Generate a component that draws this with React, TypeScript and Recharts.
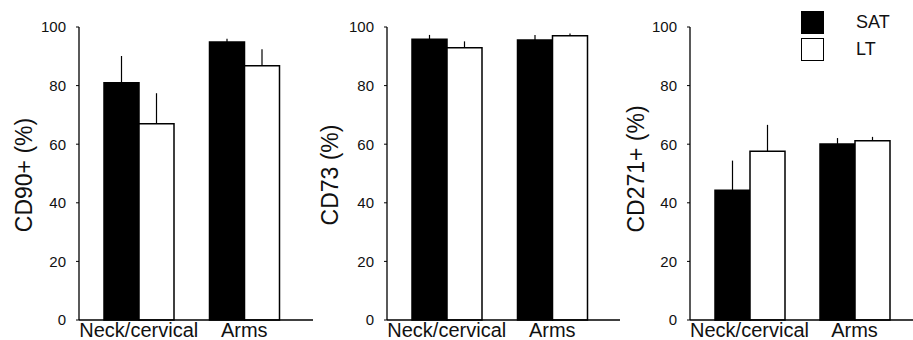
import React from "react";
import { BarChart, Bar, XAxis, YAxis, ErrorBar, Legend } from "recharts";

const FONT = "'Liberation Sans', Arial, Helvetica, sans-serif";

// shared
const categories = ["Neck/cervical", "Arms"];
const yTicks = [0, 20, 40, 60, 80, 100];
const seriesNames = ["SAT", "LT"];

// CD90+
const cd90Sat = [81, 94.9];
const cd90SatErr = [9.1, 1.1];
const cd90Lt = [67, 86.8];
const cd90LtErr = [10.4, 5.6];

// CD73
const cd73Sat = [95.8, 95.6];
const cd73SatErr = [1.5, 1.7];
const cd73Lt = [92.9, 97];
const cd73LtErr = [2.2, 0.8];

// CD271+
const cd271Sat = [44.3, 60.1];
const cd271SatErr = [10.1, 2.0];
const cd271Lt = [57.6, 61.2];
const cd271LtErr = [9, 1.3];

const buildRows = (sat: number[], satErr: number[], lt: number[], ltErr: number[]) =>
  categories.map((name, i) => ({
    name,
    sat: sat[i],
    satErr: [0, satErr[i]],
    lt: lt[i],
    ltErr: [0, ltErr[i]],
  }));

const yTitle = (text: string, x: number, y: number) => () =>
  (
    <text
      x={x}
      y={y}
      transform={`rotate(-90 ${x} ${y})`}
      textAnchor="middle"
      dominantBaseline="central"
      fontSize={23}
      fontFamily={FONT}
      fill="#111"
    >
      {text}
    </text>
  );

const LegendBox = ({ payload }: any) => {
  // keep SAT above LT like the figure
  const items = [...(payload || [])].sort(
    (a: any, b: any) => seriesNames.indexOf(a.value) - seriesNames.indexOf(b.value)
  );
  return (
    <div style={{ fontFamily: FONT, fontSize: 18, color: "#111" }}>
      {items.map((entry: any) => (
        <div
          key={entry.value}
          style={{ display: "flex", alignItems: "center", height: 23, marginBottom: 3.5 }}
        >
          <div
            style={{
              width: 23,
              height: 23,
              boxSizing: "border-box",
              border: "1.5px solid #000",
              background: entry.color,
            }}
          />
          <span style={{ marginLeft: 32 }}>{entry.value}</span>
        </div>
      ))}
    </div>
  );
};

interface PanelProps {
  left: number;
  width: number;
  axisWidth: number;
  padLeft: number;
  padRight: number;
  title: string;
  titleX: number;
  titleY: number;
  rows: any[];
  legend?: boolean;
}

function Panel({ left, width, axisWidth, padLeft, padRight, title, titleX, titleY, rows, legend }: PanelProps) {
  return (
    <div style={{ position: "absolute", left, top: 0 }}>
      <BarChart
        width={width}
        height={340}
        data={rows}
        margin={{ top: 27, right: 0, bottom: 0, left: 0 }}
        barGap={0}
        barSize={35}
      >
        <XAxis
          dataKey="name"
          height={20}
          padding={{ left: padLeft, right: padRight }}
          axisLine={{ stroke: "#000", strokeWidth: 1.3 }}
          tickLine={false}
          tickSize={0}
          tickMargin={3}
          tick={{ fill: "#111", fontSize: 20, fontFamily: FONT }}
          interval={0}
        />
        <YAxis
          width={axisWidth}
          domain={[0, 100]}
          ticks={yTicks}
          axisLine={{ stroke: "#000", strokeWidth: 1.3 }}
          tickLine={{ stroke: "#000", strokeWidth: 1 }}
          tickSize={3}
          tickMargin={10}
          tick={{ fill: "#111", fontSize: 15, fontFamily: FONT }}
          label={yTitle(title, titleX, titleY)}
        />
        {legend && (
          <Legend
            layout="vertical"
            align="center"
            verticalAlign="middle"
            content={LegendBox}
            wrapperStyle={{ top: 11, left: 181, width: 110 }}
          />
        )}
        <Bar dataKey="sat" name={seriesNames[0]} fill="#000" stroke="#000" strokeWidth={1.5} isAnimationActive={false}>
          <ErrorBar dataKey="satErr" width={0} stroke="#000" strokeWidth={1.2} />
        </Bar>
        <Bar dataKey="lt" name={seriesNames[1]} fill="#fff" stroke="#000" strokeWidth={1.5} isAnimationActive={false}>
          <ErrorBar dataKey="ltErr" width={0} stroke="#000" strokeWidth={1.2} />
        </Bar>
      </BarChart>
    </div>
  );
}

export default function App() {
  return (
    <div style={{ position: "absolute", left: 0, top: 0, width: 913, height: 340, background: "#fff" }}>
      <Panel
        left={0}
        width={313}
        axisWidth={79}
        padLeft={7}
        padRight={16}
        title="CD90+ (%)"
        titleX={24}
        titleY={175}
        rows={buildRows(cd90Sat, cd90SatErr, cd90Lt, cd90LtErr)}
      />
      <Panel
        left={310}
        width={310}
        axisWidth={77}
        padLeft={7}
        padRight={15}
        title="CD73 (%)"
        titleX={20}
        titleY={175}
        rows={buildRows(cd73Sat, cd73SatErr, cd73Lt, cd73LtErr)}
      />
      <Panel
        left={620}
        width={293}
        axisWidth={70}
        padLeft={7}
        padRight={6}
        title="CD271+ (%)"
        titleX={16}
        titleY={169}
        rows={buildRows(cd271Sat, cd271SatErr, cd271Lt, cd271LtErr)}
        legend
      />
    </div>
  );
}
